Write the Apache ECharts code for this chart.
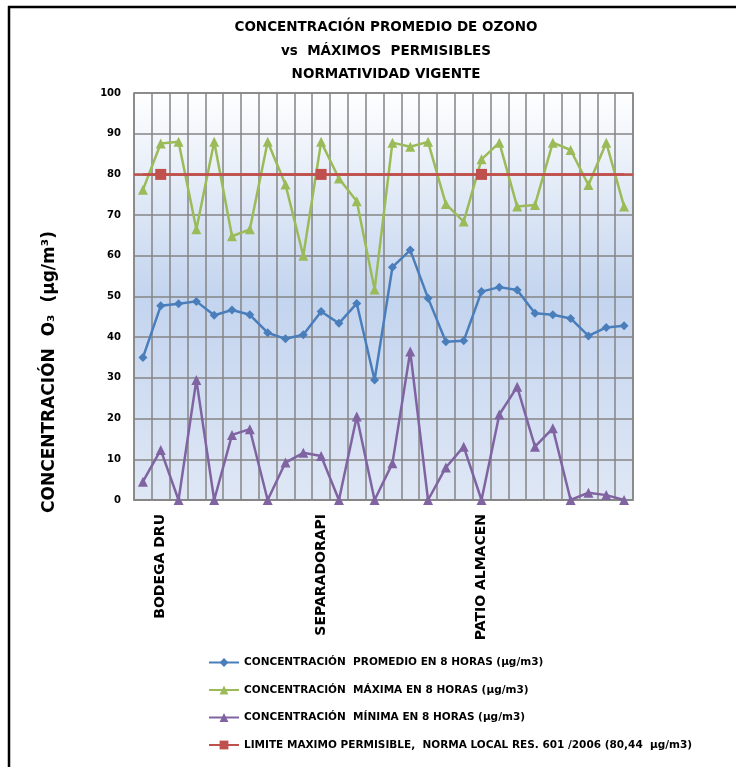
<!DOCTYPE html>
<html>
<head>
<meta charset="utf-8">
<script src="https://cdn.jsdelivr.net/npm/echarts@6/dist/echarts.min.js"></script>
<style>
  html, body { margin: 0; padding: 0; background: #fff; }
  #chart { width: 736px; height: 767px; }
</style>
</head>
<body>
<div id="chart"></div>
<script>
// sampling points (only three are labelled in the original)
const categories = [
  '', 'BODEGA DRU', '', '', '', '', '', '', '', '',
  'SEPARADORAPI', '', '', '', '', '', '', '', '',
  'PATIO ALMACEN', '', '', '', '', '', '', '', ''
];

const promedio = [35, 47.7, 48.2, 48.8, 45.4, 46.7, 45.5, 41.1, 39.6, 40.6,
  46.3, 43.4, 48.3, 29.5, 57.2, 61.4, 49.6, 38.9, 39.1, 51.2,
  52.3, 51.6, 45.9, 45.5, 44.6, 40.3, 42.4, 42.8];

const maxima = [76.2, 87.6, 88, 66.5, 88, 64.8, 66.5, 88, 77.5, 60,
  88, 79, 73.4, 51.7, 87.8, 86.8, 88, 72.7, 68.4, 83.7,
  87.8, 72.1, 72.5, 87.8, 86, 77.4, 87.8, 72.1];

const minima = [4.5, 12.3, 0, 29.5, 0, 16, 17.4, 0, 9.2, 11.6,
  10.8, 0, 20.5, 0, 9, 36.5, 0, 8, 13.1, 0,
  21, 27.8, 13.1, 17.6, 0, 1.8, 1.2, 0];

const limite = 80;
const limiteMarks = [1, 10, 19]; // points where the limit series shows a marker

const yTicks = { min: 0, max: 100, interval: 10 };

const seriesNames = [
  'CONCENTRACIÓN  PROMEDIO EN 8 HORAS (µg/m3)',
  'CONCENTRACIÓN  MÁXIMA EN 8 HORAS (µg/m3)',
  'CONCENTRACIÓN  MÍNIMA EN 8 HORAS (µg/m3)',
  'LIMITE MAXIMO PERMISIBLE,  NORMA LOCAL RES. 601 /2006 (80,44  µg/m3)'
];

const chart = echarts.init(document.getElementById('chart'), null, { renderer: 'canvas' });

const FONT = '"DejaVu Sans", sans-serif';
const gridColor = '#858585';

const limiteData = categories.map((c, i) => (
  limiteMarks.includes(i) ? { value: limite } : { value: limite, symbol: 'none' }
));

const option = {
  backgroundColor: '#fff',
  animation: false,
  title: {
    text: 'CONCENTRACIÓN PROMEDIO DE OZONO\nvs  MÁXIMOS  PERMISIBLES\nNORMATIVIDAD VIGENTE',
    left: 381,
    textAlign: 'center',
    top: 11,
    textStyle: {
      fontFamily: FONT,
      fontWeight: 'bold',
      fontSize: 13.5,
      lineHeight: 23.5,
      color: '#000'
    }
  },
  legend: {
    orient: 'vertical',
    left: 203,
    top: 652,
    itemWidth: 30,
    itemHeight: 11,
    itemGap: 16.5,
    data: seriesNames,
    textStyle: {
      fontFamily: FONT,
      fontWeight: 'bold',
      fontSize: 10.5,
      color: '#000'
    }
  },
  grid: {
    left: 134,
    right: 103,
    top: 93,
    bottom: 267,
    show: true,
    borderColor: gridColor,
    borderWidth: 1.5,
    backgroundColor: new echarts.graphic.LinearGradient(0, 0, 0, 1, [
      { offset: 0, color: '#ffffff' },
      { offset: 0.5, color: '#c3d4ef' },
      { offset: 1, color: '#dfe7f5' }
    ])
  },
  xAxis: {
    type: 'category',
    data: categories,
    boundaryGap: true,
    axisLine: { show: true, lineStyle: { color: gridColor, width: 1.5 } },
    axisTick: { show: false },
    splitLine: { show: true, interval: 0, lineStyle: { color: gridColor, width: 1.5 } },
    axisLabel: {
      interval: 0,
      rotate: 90,
      margin: 14,
      fontFamily: FONT,
      fontWeight: 'bold',
      fontSize: 14,
      color: '#000'
    }
  },
  yAxis: {
    type: 'value',
    min: yTicks.min,
    max: yTicks.max,
    interval: yTicks.interval,
    axisLine: { show: false },
    axisTick: { show: false },
    splitLine: { show: true, lineStyle: { color: gridColor, width: 1.5 } },
    axisLabel: {
      margin: 13,
      fontFamily: FONT,
      fontWeight: 'bold',
      fontSize: 10,
      color: '#000'
    }
  },
  graphic: [
    {
      type: 'text',
      x: 50,
      y: 372,
      rotation: Math.PI / 2,
      style: {
        text: 'CONCENTRACIÓN  O₃  (µg/m³)',
        font: 'bold 17px "DejaVu Sans", sans-serif',
        fill: '#000',
        textAlign: 'center',
        textVerticalAlign: 'middle'
      }
    },
    { type: 'line', shape: { x1: 8, y1: 7, x2: 736, y2: 7 }, style: { stroke: '#000', lineWidth: 2.5 } },
    { type: 'line', shape: { x1: 9, y1: 6, x2: 9, y2: 767 }, style: { stroke: '#000', lineWidth: 2.5 } }
  ],
  series: [
    {
      name: seriesNames[0],
      type: 'line',
      data: promedio,
      symbol: 'diamond',
      symbolSize: 9,
      showAllSymbol: true,
      lineStyle: { color: '#4a7ebb', width: 2.5 },
      itemStyle: { color: '#4a7ebb' }
    },
    {
      name: seriesNames[1],
      type: 'line',
      data: maxima,
      symbol: 'triangle',
      symbolSize: 10,
      showAllSymbol: true,
      lineStyle: { color: '#9bbb59', width: 2.5 },
      itemStyle: { color: '#9bbb59' }
    },
    {
      name: seriesNames[2],
      type: 'line',
      data: minima,
      symbol: 'triangle',
      symbolSize: 10,
      showAllSymbol: true,
      lineStyle: { color: '#8064a2', width: 2.5 },
      itemStyle: { color: '#8064a2' }
    },
    {
      name: seriesNames[3],
      type: 'line',
      data: limiteData,
      symbol: 'rect',
      symbolSize: 11,
      showAllSymbol: true,
      lineStyle: { color: '#c0504d', width: 2.5 },
      itemStyle: { color: '#c0504d' },
      markLine: {
        silent: true,
        symbol: 'none',
        label: { show: false },
        lineStyle: { color: '#c0504d', width: 2.5, type: 'solid' },
        data: [{ yAxis: limite }]
      }
    }
  ]
};

chart.setOption(option);
</script>
</body>
</html>
